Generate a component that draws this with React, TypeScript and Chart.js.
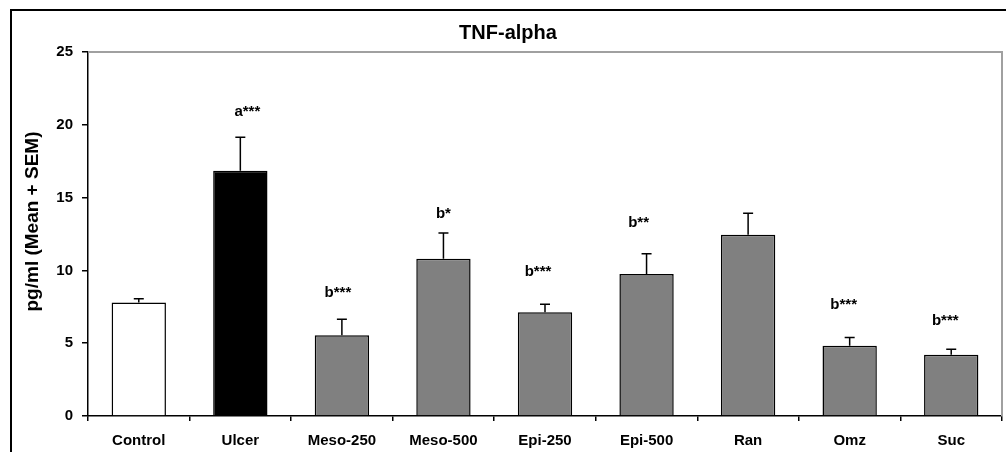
import React, { useEffect, useRef } from "react";
import { Chart, registerables } from "chart.js";

Chart.register(...registerables);

const categories = ["Control", "Ulcer", "Meso-250", "Meso-500", "Epi-250", "Epi-500", "Ran", "Omz", "Suc"];
const means = [7.8, 16.85, 5.55, 10.8, 7.12, 9.75, 12.45, 4.83, 4.2];
const sems = [0.25, 2.3, 1.1, 1.77, 0.56, 1.4, 1.47, 0.57, 0.38];
const sigLabels = ["", "a***", "b***", "b*", "b***", "b**", "", "b***", "b***"];
const sigLevels = [0, 20.9, 8.45, 13.85, 9.9, 13.25, 0, 7.6, 6.55];
const yTickValues = [0, 5, 10, 15, 20, 25];
const chartTitle = "TNF-alpha";
const yTitle = "pg/ml (Mean + SEM)";

// styles (not data)
const barColors = ["#ffffff", "#000000", "#808080", "#808080", "#808080", "#808080", "#808080", "#808080", "#808080"];
const sigShift = [0, 7, -4, 0, -7, -8, 0, -6, -6];
const FONT = "'Liberation Sans', Arial, sans-serif";

const decorPlugin = {
  id: "decor",
  afterDraw(chart: any) {
    const { ctx, chartArea, scales } = chart;
    const x = scales.x;
    const y = scales.y;
    ctx.save();
    // outer frame
    ctx.strokeStyle = "#000";
    ctx.lineWidth = 2;
    ctx.beginPath();
    ctx.moveTo(11, 460);
    ctx.lineTo(11, 10);
    ctx.lineTo(1010, 10);
    ctx.stroke();
    // top / right gray plot border
    ctx.strokeStyle = "#a0a0a0";
    ctx.lineWidth = 2;
    ctx.beginPath();
    ctx.moveTo(chartArea.left, chartArea.top);
    ctx.lineTo(chartArea.right, chartArea.top);
    ctx.lineTo(chartArea.right, chartArea.bottom);
    ctx.stroke();
    // error bars
    ctx.strokeStyle = "#000";
    ctx.lineWidth = 1.5;
    means.forEach((m, i) => {
      const px = x.getPixelForValue(i);
      const y0 = y.getPixelForValue(m);
      const y1 = y.getPixelForValue(m + sems[i]);
      ctx.beginPath();
      ctx.moveTo(px, y0);
      ctx.lineTo(px, y1);
      ctx.moveTo(px - 5, y1);
      ctx.lineTo(px + 5, y1);
      ctx.stroke();
    });
    // significance labels
    ctx.fillStyle = "#000";
    ctx.font = `bold 15px ${FONT}`;
    ctx.textAlign = "center";
    ctx.textBaseline = "middle";
    sigLabels.forEach((s, i) => {
      if (!s) return;
      ctx.fillText(s, x.getPixelForValue(i) + sigShift[i], y.getPixelForValue(sigLevels[i]));
    });
    // title
    ctx.font = `bold 20px ${FONT}`;
    ctx.fillText(chartTitle, 508, 33);
    // y title
    ctx.translate(33, 221.5);
    ctx.rotate(-Math.PI / 2);
    ctx.font = `bold 19px ${FONT}`;
    ctx.fillText(yTitle, 0, 0);
    ctx.restore();
  },
};

export default function App() {
  const ref = useRef<HTMLCanvasElement | null>(null);
  useEffect(() => {
    if (!ref.current) return;
    const chart = new Chart(ref.current, {
      type: "bar",
      data: {
        labels: categories,
        datasets: [
          {
            data: means,
            backgroundColor: barColors,
            borderColor: "#000",
            borderWidth: 1.5,
            borderSkipped: "bottom",
            categoryPercentage: 1,
            barPercentage: 0.535,
          },
        ],
      },
      options: {
        responsive: false,
        animation: false,
        devicePixelRatio: 1,
        layout: { padding: { left: 0, top: 52, right: 4, bottom: 0 } },
        plugins: { legend: { display: false }, tooltip: { enabled: false }, title: { display: false } },
        scales: {
          x: {
            offset: true,
            grid: { drawOnChartArea: false, drawTicks: true, tickLength: 5, color: "#000", offset: true, lineWidth: 1.5 },
            border: { display: true, color: "#000", width: 1.5 },
            ticks: { color: "#000", font: { family: FONT, size: 15, weight: "bold" }, padding: 11, maxRotation: 0, autoSkip: false },
            afterFit: (s: any) => { s.height = 36; },
          },
          y: {
            min: 0,
            max: 25,
            afterBuildTicks: (s: any) => { s.ticks = yTickValues.map((v) => ({ value: v })); },
            grid: { drawOnChartArea: false, drawTicks: true, tickLength: 6, color: "#000", lineWidth: 1.5 },
            border: { display: true, color: "#000", width: 1.5 },
            ticks: { color: "#000", font: { family: FONT, size: 15, weight: "bold" }, padding: 9 },
            afterFit: (s: any) => { s.width = 88; },
          },
        },
      },
      plugins: [decorPlugin],
    });
    return () => chart.destroy();
  }, []);
  return (
    <div style={{ position: "absolute", left: 0, top: 0, width: 1006, height: 452, background: "#fff" }}>
      <canvas ref={ref} width={1006} height={452} style={{ display: "block" }} />
    </div>
  );
}
